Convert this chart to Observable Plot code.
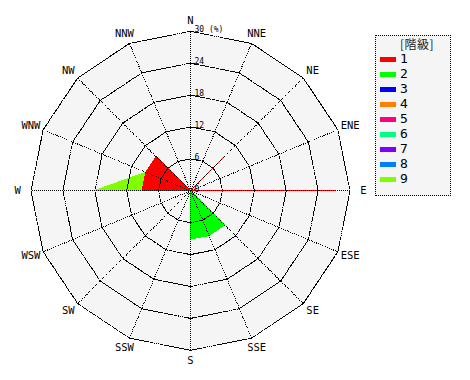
<!DOCTYPE html>
<html><head><meta charset="utf-8">
<script src="https://cdn.jsdelivr.net/npm/d3@7"></script>
<script src="https://cdn.jsdelivr.net/npm/@observablehq/plot@0.6"></script>
<style>
body{margin:0;background:#fff;}
#wrap{position:relative;width:470px;height:380px;overflow:hidden;}
#legend{position:absolute;left:375px;top:35px;width:74px;height:159px;border:1px dotted #000;background:#f5f5f5;}
#legend .ttl{position:absolute;left:0;width:82px;top:-1px;text-align:center;font:12px "Noto Sans CJK JP",sans-serif;color:#222;letter-spacing:0.5px;}
#legend .sw{position:absolute;left:4px;width:16px;height:5px;}
#legend .lb{position:absolute;left:24px;font:13px "DejaVu Sans Mono",monospace;color:#000;line-height:14px;}
</style></head><body><div id="wrap"></div>
<script>
// ---- data ----
const directions = ["N","NNE","NE","ENE","E","ESE","SE","SSE","S","SSW","SW","WSW","W","WNW","NW","NNW"];
const classes = ["1","2","3","4","5","6","7","8","9"];
const classColors = ["#ff0000","#00ff00","#0000ff","#ff8000","#ff0080","#00ff80","#8000ff","#0080ff","#80ff00"];
// frequency (%) per direction for each class
const freq1 = [0,0,9.1,0,27.3,0,0,0,0,0,0,0,9.1,9.1,9.1,0];
const freq2 = [0,0,0,0,0,0,9.1,9.1,9.1,0,0,0,0,0,0,0];
const freq3 = [0,0,0,0,0,0,0,0,0,0,0,0,0,0,0,0];
const freq4 = [0,0,0,0,0,0,0,0,0,0,0,0,0,0,0,0];
const freq5 = [0,0,0,0,0,0,0,0,0,0,0,0,0,0,0,0];
const freq6 = [0,0,0,0,0,0,0,0,0,0,0,0,0,0,0,0];
const freq7 = [0,0,0,0,0,0,0,0,0,0,0,0,0,0,0,0];
const freq8 = [0,0,0,0,0,0,0,0,0,0,0,0,0,0,0,0];
const freq9 = [0,0,0,0,0,0,0,0,0,0,0,0,9.1,0,0,0];
const ringTicks = [0,6,12,18,24,30];
const ringLabels = ["0","6","12","18","24","30 (%)"];
const rMax = 30;

// ---- helpers ----
const freqs = [freq1,freq2,freq3,freq4,freq5,freq6,freq7,freq8,freq9];
const cum = [];
freqs.forEach((f,k)=>{ cum.push(f.map((v,i)=> v + (k>0 ? cum[k-1][i] : 0))); });
const ang = i => i * Math.PI * 2 / directions.length;
const px = (r,i) => r * Math.sin(ang(i));
const py = (r,i) => r * Math.cos(ang(i));

const rings = ringTicks.filter(r => r > 0).flatMap(r => directions.map((d,i)=>({r, i})));
const mono = "DejaVu Sans Mono";
const crisp = "crispEdges";

const marks = [];
// background polygon
marks.push(Plot.line(directions, {x:(d,i)=>px(rMax,i), y:(d,i)=>py(rMax,i), curve:"linear-closed", fill:"#f5f5f5", stroke:"none", shapeRendering:crisp}));
// stacked class polygons, largest cumulative first
for (let k = classes.length - 1; k >= 0; k--) {
  marks.push(Plot.line(directions, {
    x:(d,i)=>px(cum[k][i],i), y:(d,i)=>py(cum[k][i],i),
    curve:"linear-closed", fill:classColors[k], stroke:classColors[k], strokeWidth:1, shapeRendering:crisp
  }));
}
// grid rings and spokes
marks.push(Plot.line(rings, {x:d=>px(d.r,d.i), y:d=>py(d.r,d.i), z:"r", curve:"linear-closed", stroke:"#000", strokeWidth:1, strokeDasharray:"1,1", shapeRendering:crisp}));
marks.push(Plot.link(directions, {x1:0, y1:0, x2:(d,i)=>px(rMax,i), y2:(d,i)=>py(rMax,i), stroke:"#000", strokeWidth:1, strokeDasharray:"1,1", shapeRendering:crisp}));
// direction labels
marks.push(Plot.text(directions, {x:(d,i)=>32.5*Math.sin(ang(i)), y:(d,i)=>32.0*Math.cos(ang(i)), text:d=>d, fontFamily:mono, fontSize:10.5, fill:"#000"}));
// ring labels
marks.push(Plot.text(ringTicks, {x:0, y:d=>d, text:(d,i)=>ringLabels[i], textAnchor:"start", lineAnchor:"bottom", dx:4, dy:1, fontFamily:mono, fontSize:8, fill:"#000"}));

const chart = Plot.plot({
  width:470, height:380, margin:0,
  style:{background:"#fff"},
  x:{domain:[-rMax,rMax], range:[30.5,349.5], axis:null},
  y:{domain:[-rMax,rMax], range:[349.8,30.8], axis:null},
  marks
});
const wrap = document.getElementById("wrap");
wrap.appendChild(chart);

// legend
const lg = document.createElement("div");
lg.id = "legend";
const t = document.createElement("div");
t.className = "ttl"; t.textContent = "[階級]";
lg.appendChild(t);
classes.forEach((c,i)=>{
  const s = document.createElement("div");
  s.className = "sw"; s.style.top = (21 + 15*i) + "px"; s.style.background = classColors[i];
  lg.appendChild(s);
  const l = document.createElement("div");
  l.className = "lb"; l.style.top = (16 + 15*i) + "px"; l.textContent = c;
  lg.appendChild(l);
});
wrap.appendChild(lg);
</script></body></html>
